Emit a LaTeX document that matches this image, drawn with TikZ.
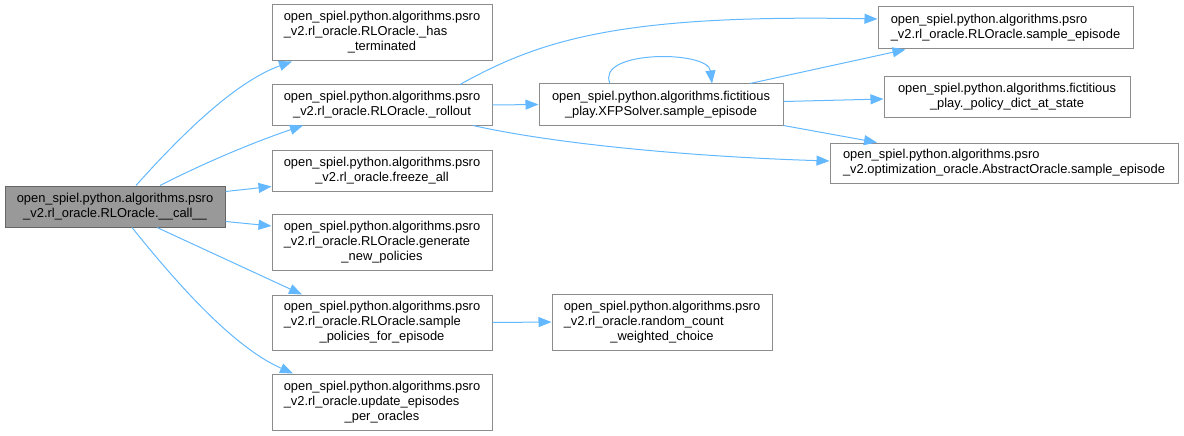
\documentclass[tikz,border=0pt]{standalone}
\usepackage{fontspec}
\setmainfont{Liberation Sans}
\usetikzlibrary{arrows.meta}
\definecolor{edgeblue}{HTML}{63B8FF}
\definecolor{boxline}{HTML}{8C8C8C}
\newcommand{\twoln}[2]{\begin{tabular}{@{}l@{}}#1\\\multicolumn{1}{@{}c@{}}{#2}\end{tabular}}
\newcommand{\threeln}[3]{\begin{tabular}{@{}l@{}}#1\\#2\\\multicolumn{1}{@{}c@{}}{#3}\end{tabular}}
\newcommand{\psrohd}{open\_spiel.python.algorithms.psro}
\newcommand{\fphd}{open\_spiel.python.algorithms.fictitious}

\begin{document}
\begin{tikzpicture}[x=1pt,y=-1pt,font=\fontsize{12.9}{15}\selectfont,
  fn/.style={draw=boxline,fill=white,line width=1pt,inner sep=0pt,minimum width=220,minimum height=40},
  call/.style={draw=edgeblue,line width=1pt,-{Triangle[length=13pt,width=10pt]}}]
\useasboundingbox (0,0) rectangle (1184,436);
% caller
\node[fn,fill=black!40,draw=black!60,minimum height=41] (call) at (115,206.5){\twoln{\psrohd}{\_v2.rl\_oracle.RLOracle.\_\_call\_\_}};
% first level
\node[fn,minimum height=56] (hasterm) at (382,33){\threeln{\psrohd}{\_v2.rl\_oracle.RLOracle.\_has}{\_terminated}};
\node[fn] (rollout) at (382,105){\twoln{\psrohd}{\_v2.rl\_oracle.RLOracle.\_rollout}};
\node[fn,minimum height=41] (freeze) at (382,170.5){\twoln{\psrohd}{\_v2.rl\_oracle.freeze\_all}};
\node[fn,minimum height=56] (genpol) at (382,242){\threeln{\psrohd}{\_v2.rl\_oracle.RLOracle.generate}{\_new\_policies}};
\node[fn,minimum height=55] (samplepol) at (382,322.5){\threeln{\psrohd}{\_v2.rl\_oracle.RLOracle.sample}{\_policies\_for\_episode}};
\node[fn,minimum height=56] (updep) at (382,402){\threeln{\psrohd}{\_v2.rl\_oracle.update\_episodes}{\_per\_oracles}};
% second level
\node[fn,minimum width=244,minimum height=41] (xfp) at (661,104.5){\twoln{\fphd}{\_play.XFPSolver.sample\_episode}};
\node[fn,minimum height=56] (rcwc) at (662,322){\threeln{\psrohd}{\_v2.rl\_oracle.random\_count}{\_weighted\_choice}};
\node[fn,minimum width=255,minimum height=42] (rlsample) at (1005.5,28){\twoln{\psrohd}{\_v2.rl\_oracle.RLOracle.sample\_episode}};
\node[fn,minimum width=246] (poldict) at (1007,97){\twoln{\fphd}{\_play.\_policy\_dict\_at\_state}};
\node[fn,minimum width=348] (absample) at (1004,163){\twoln{\psrohd}{\_v2.optimization\_oracle.AbstractOracle.sample\_episode}};
% calls
\draw[call] ([xshift=21]call.north) .. controls (190,125) and (240,80) .. ([xshift=-90]hasterm.south);
\draw[call] ([xshift=45]call.north) .. controls (210,160) and (260,140) .. ([xshift=-79]rollout.south);
\draw[call] ([yshift=15]call.east) -- ([yshift=-16]freeze.west);
\draw[call] ([yshift=-15]call.east) -- ([yshift=16]genpol.west);
\draw[call] ([xshift=42]call.south) -- ([xshift=-80]samplepol.north);
\draw[call] ([xshift=17]call.south) .. controls (190,300) and (240,350) .. ([xshift=-89]updep.north);
\draw[call] (rollout.east) -- (xfp.west);
\draw[call] ([xshift=78]rollout.north) .. controls (540,40) and (620,14) .. ([yshift=9]rlsample.west);
\draw[call] ([xshift=91]rollout.south) .. controls (560,145) and (700,157) .. ([yshift=2]absample.west);
\draw[call] ([xshift=-51]xfp.north) .. controls (595,50) and (708,50) .. ([xshift=51]xfp.north);
\draw[call] ([xshift=89]xfp.north) -- ([xshift=-100]rlsample.south);
\draw[call] ([yshift=3]xfp.east) -- ([yshift=-2]poldict.west);
\draw[call] (xfp.south east) -- ([xshift=-127]absample.north);
\draw[call] (samplepol.east) -- (rcwc.west);
\end{tikzpicture}
\end{document}
